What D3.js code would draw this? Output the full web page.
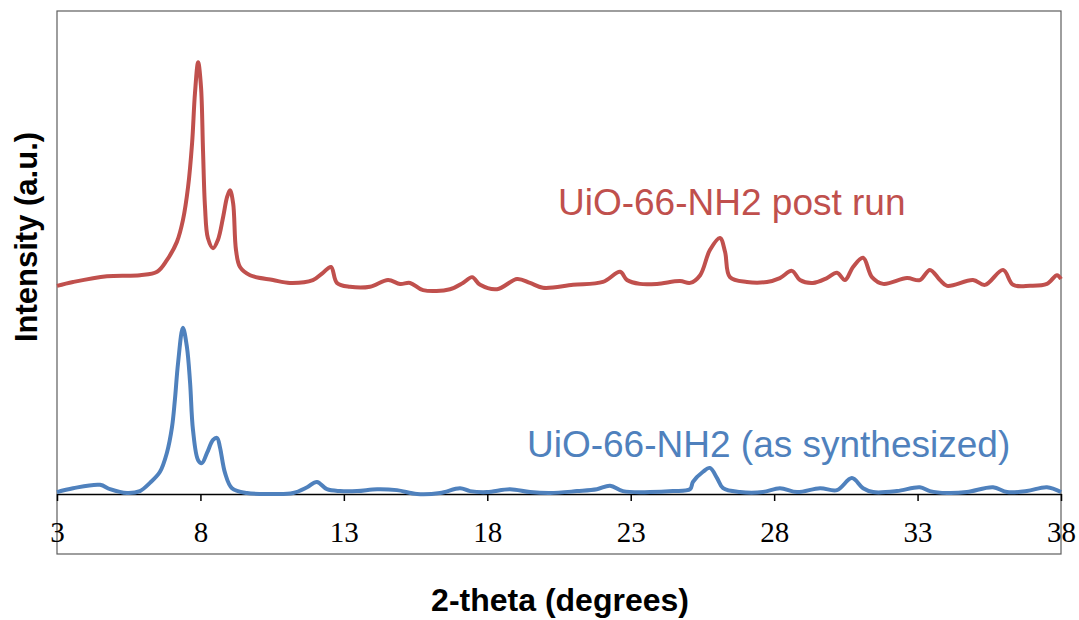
<!DOCTYPE html>
<html>
<head>
<meta charset="utf-8">
<script src="https://cdn.jsdelivr.net/npm/d3@7"></script>
<style>
  body { margin: 0; background: #fff; }
</style>
</head>
<body>
<div id="plot"></div>
<script>
// XRD patterns, values (2-theta in degrees, intensity in a.u.)
const postRunTheta = [3.00, 3.56, 4.74, 5.89, 6.49, 6.83, 7.18, 7.39, 7.57, 7.71, 7.81, 7.92, 8.02, 8.09, 8.16, 8.26,
  8.44, 8.61, 8.79, 8.93, 9.03, 9.14, 9.24, 9.38, 9.73, 10.53, 11.12, 11.92, 12.27, 12.55, 12.76, 13.21, 13.91,
  14.54, 14.96, 15.31, 15.76, 16.70, 17.15, 17.47, 17.75, 18.34, 19.04, 19.49, 19.94, 20.99, 22.03, 22.63, 22.87,
  23.32, 23.92, 24.72, 25.07, 25.42, 25.76, 26.11, 26.29, 26.46, 27.05, 27.75, 28.20, 28.62, 28.90, 29.35, 29.84,
  30.19, 30.47, 30.75, 31.10, 31.41, 31.80, 32.63, 33.08, 33.43, 33.78, 34.03, 34.93, 35.35, 35.98, 36.33, 36.92,
  37.51, 37.86, 38.00];
const postRunIntensity = [43.1, 43.9, 45.1, 45.3, 46.0, 48.4, 52.2, 56.7, 63.6, 72.7, 83.0, 89.4, 84.3, 71.2, 59.4, 53.0,
  50.9, 52.6, 57.3, 61.5, 62.9, 60.2, 50.5, 47.0, 45.3, 44.3, 43.7, 44.3, 45.8, 47.0, 43.7, 42.9, 42.9,
  44.3, 43.5, 43.7, 42.2, 42.4, 43.7, 44.9, 43.3, 42.4, 44.5, 43.7, 42.7, 43.3, 43.9, 46.0, 44.3,
  43.5, 43.5, 44.1, 43.7, 45.3, 50.5, 53.0, 50.1, 44.9, 43.9, 43.9, 44.7, 46.2, 44.3, 43.7, 44.7,
  45.8, 44.3, 47.0, 48.9, 44.9, 43.5, 44.7, 44.3, 46.4, 44.3, 43.1, 44.3, 43.3, 46.4, 43.3, 43.1,
  43.5, 45.3, 44.5];

const asSynthTheta = [3.00, 3.56, 4.50, 4.85, 5.44, 5.89, 6.24, 6.59, 6.83, 7.01, 7.11, 7.22, 7.39, 7.53, 7.64, 7.74,
  7.92, 8.05, 8.23, 8.44, 8.58, 8.68, 8.86, 9.10, 9.62, 10.53, 11.23, 11.72, 12.06, 12.41, 12.87, 13.46, 14.16,
  14.85, 15.55, 16.35, 17.05, 17.40, 17.99, 18.79, 19.49, 20.19, 21.13, 21.82, 22.28, 22.73, 23.67, 24.47, 25.07,
  25.17, 25.52, 25.76, 26.01, 26.22, 26.81, 27.61, 28.20, 28.80, 29.60, 30.19, 30.71, 31.10, 31.45, 32.28, 33.08,
  33.43, 34.03, 34.72, 35.63, 36.12, 36.81, 37.51, 38.00];
const asSynthIntensity = [0.4, 1.2, 1.9, 1.0, 0.2, 0.6, 2.3, 4.6, 8.5, 13.9, 19.5, 27.1, 34.4, 30.4, 23.0, 13.3,
  7.0, 6.4, 8.5, 11.2, 11.6, 9.7, 4.3, 1.2, 0.2, 0.0, 0.2, 1.4, 2.5, 1.0, 0.6, 0.6, 1.0,
  0.8, 0.0, 0.2, 1.2, 0.6, 0.4, 1.0, 0.4, 0.2, 0.6, 1.0, 1.7, 0.6, 0.4, 0.6, 1.0,
  2.5, 4.6, 5.4, 3.3, 1.2, 0.4, 0.4, 1.2, 0.4, 1.2, 0.8, 3.3, 1.2, 0.4, 0.6, 1.4,
  0.6, 0.2, 0.4, 1.4, 0.4, 0.6, 1.4, 0.4];

const xTicks = [3, 8, 13, 18, 23, 28, 33, 38];
const seriesNames = ["UiO-66-NH2 post run", "UiO-66-NH2 (as synthesized)"];
const seriesColors = ["#C0504D", "#4F81BD"];

// layout
const w = 1079, h = 620;
const plot = {left: 57, right: 1061, top: 11, axis: 494, bottom: 554};

const svg = d3.select("div#plot")
  .append("svg")
    .attr("width", w)
    .attr("height", h);

const x = d3.scaleLinear()
  .domain([3, 38])
  .range([plot.left, plot.right]);

const y = d3.scaleLinear()
  .domain([0, 100])
  .range([plot.axis, plot.top]);

// plot frame
svg.append("rect")
  .attr("x", plot.left)
  .attr("y", plot.top)
  .attr("width", plot.right - plot.left)
  .attr("height", plot.bottom - plot.top)
  .attr("fill", "none")
  .attr("stroke", "#5e5e5e")
  .attr("stroke-width", 1.2);

// x axis
const xAxis = svg.append("g")
  .attr("class", "xAxis")
  .attr("transform", `translate(0, ${plot.axis})`)
  .call(d3.axisBottom(x).tickValues(xTicks).tickSize(7).tickSizeOuter(0).tickPadding(20));

xAxis.select(".domain").attr("stroke", "#000").attr("stroke-width", 1.5);
xAxis.selectAll(".tick line").attr("stroke", "#000").attr("stroke-width", 1.5);
xAxis.selectAll(".tick text")
  .attr("fill", "#000")
  .style("font-family", "'Liberation Serif', 'DejaVu Serif', serif")
  .style("font-size", "29px");

// series
const line = d3.line()
  .curve(d3.curveCatmullRom.alpha(0.5))
  .x(d => x(d[0]))
  .y(d => y(d[1]));

const postRun = d3.zip(postRunTheta, postRunIntensity);
const asSynth = d3.zip(asSynthTheta, asSynthIntensity);

[postRun, asSynth].forEach((data, i) => {
  svg.append("path")
    .datum(data)
    .attr("fill", "none")
    .attr("stroke", seriesColors[i])
    .attr("stroke-width", 4)
    .attr("stroke-linejoin", "round")
    .attr("d", line);
});

// series labels
svg.append("text")
  .attr("x", 558)
  .attr("y", 215)
  .attr("fill", seriesColors[0])
  .style("font-family", "'Liberation Sans', Arial, sans-serif")
  .style("font-size", "37px")
  .text(seriesNames[0]);

svg.append("text")
  .attr("x", 527)
  .attr("y", 457)
  .attr("fill", seriesColors[1])
  .style("font-family", "'Liberation Sans', Arial, sans-serif")
  .style("font-size", "37px")
  .text(seriesNames[1]);

// axis titles
svg.append("text")
  .attr("x", 560)
  .attr("y", 611)
  .attr("text-anchor", "middle")
  .style("font-family", "'Liberation Sans', Arial, sans-serif")
  .style("font-weight", "bold")
  .style("font-size", "32px")
  .text("2-theta (degrees)");

svg.append("text")
  .attr("transform", "rotate(-90)")
  .attr("x", -237)
  .attr("y", 37)
  .attr("text-anchor", "middle")
  .style("font-family", "'Liberation Sans', Arial, sans-serif")
  .style("font-weight", "bold")
  .style("font-size", "31px")
  .text("Intensity (a.u.)");
</script>
</body>
</html>
